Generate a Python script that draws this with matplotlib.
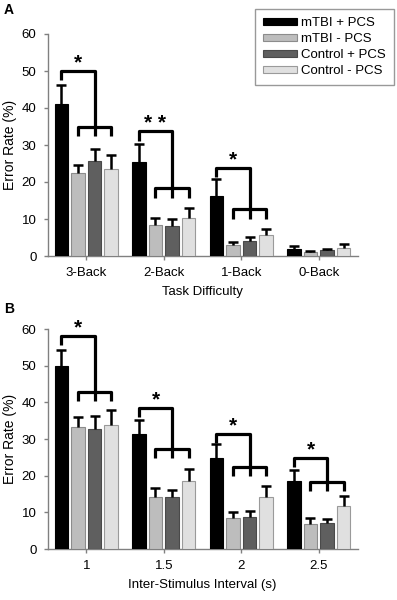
import matplotlib
matplotlib.use("Agg")
import matplotlib.pyplot as plt
import numpy as np

plt.rcParams['font.family'] = ['Liberation Sans', 'DejaVu Sans']

series = ["mTBI + PCS", "mTBI - PCS", "Control + PCS", "Control - PCS"]
colors = ["#000000", "#bdbdbd", "#5f5f5f", "#e0e0e0"]
edges = ["#000000", "#8c8c8c", "#4a4a4a", "#9a9a9a"]

# Panel A
cats_a = ["3-Back", "2-Back", "1-Back", "0-Back"]
mean_a = {
    "mTBI + PCS":    [41.1, 25.3, 16.3, 2.0],
    "mTBI - PCS":    [22.3, 8.5, 3.0, 1.0],
    "Control + PCS": [25.6, 8.2, 4.1, 1.7],
    "Control - PCS": [23.5, 10.3, 5.8, 2.2],
}
top_a = {
    "mTBI + PCS":    [46.3, 30.2, 20.9, 2.8],
    "mTBI - PCS":    [24.7, 10.2, 3.8, 1.4],
    "Control + PCS": [28.9, 10.0, 5.1, 2.0],
    "Control - PCS": [27.2, 12.9, 7.3, 3.2],
}
sig_a = [("*", 50.0, 35.0), ("* *", 33.7, 18.3), ("*", 23.9, 12.6), None]

# Panel B
cats_b = ["1", "1.5", "2", "2.5"]
mean_b = {
    "mTBI + PCS":    [50.0, 31.5, 24.9, 18.6],
    "mTBI - PCS":    [33.2, 14.1, 8.5, 6.8],
    "Control + PCS": [32.7, 14.3, 8.6, 7.0],
    "Control - PCS": [33.9, 18.6, 14.3, 11.7],
}
top_b = {
    "mTBI + PCS":    [54.3, 35.2, 28.6, 21.6],
    "mTBI - PCS":    [36.0, 16.7, 10.0, 8.5],
    "Control + PCS": [36.3, 16.0, 10.4, 8.3],
    "Control - PCS": [37.8, 21.7, 17.1, 14.5],
}
sig_b = [("*", 58.1, 42.8), ("*", 38.5, 27.3), ("*", 31.5, 22.5), ("*", 24.9, 18.2)]

W, H = 397, 600
fig = plt.figure(figsize=(W / 100, H / 100), dpi=100)

offsets = np.array([-1.5, -0.5, 0.5, 1.5]) * 0.213
bw = 0.17
d = 2.5


def draw(ax, cats, means, tops, sigs, xlabel):
    x = np.arange(len(cats))
    handles = []
    for i, s in enumerate(series):
        xs = x + offsets[i]
        m = np.array(means[s])
        t = np.array(tops[s])
        b = ax.bar(xs, m, bw, color=colors[i], edgecolor=edges[i], linewidth=0.8,
                   label=s, zorder=3)
        handles.append(b)
        eb = ax.errorbar(xs, m, yerr=[np.zeros_like(m), t - m], fmt='none',
                         ecolor='black', elinewidth=1.8, capsize=3.5, capthick=1.8,
                         zorder=4)
        eb[1][0].set_visible(False)
    for j, sg in enumerate(sigs):
        if sg is None:
            continue
        star, U, L = sg
        xb = x[j] + offsets
        # lower bracket
        ax.plot([xb[1], xb[1], xb[3], xb[3]], [L - d, L, L, L - d], color='black',
                lw=2.3, solid_joinstyle='round', solid_capstyle='butt', zorder=5)
        ax.plot([xb[2], xb[2]], [L, L - d], color='black', lw=2.3, zorder=5,
                solid_capstyle='butt')
        # upper bracket
        ax.plot([xb[0], xb[0], xb[2], xb[2]], [U - d, U, U, L], color='black',
                lw=2.3, solid_joinstyle='round', solid_capstyle='butt', zorder=5)
        ax.text((xb[0] + xb[2]) / 2, U + 0.6, star, ha='center', va='baseline',
                fontsize=15, fontweight='bold')
    ax.set_xlim(-0.5, 3.5)
    ax.set_ylim(0, 60)
    ax.set_yticks(np.arange(0, 61, 10))
    ax.set_xticks(x)
    ax.set_xticklabels(cats)
    for sp in ['top', 'right']:
        ax.spines[sp].set_visible(False)
    for sp in ['left', 'bottom']:
        ax.spines[sp].set_color('#808080')
        ax.spines[sp].set_linewidth(1.0)
    ax.tick_params(axis='both', direction='out', length=3, width=1.0,
                   color='#808080', labelsize=9.5, pad=5)
    ax.set_ylabel("Error Rate (%)", fontsize=10, labelpad=3)
    ax.set_xlabel(xlabel, fontsize=9.5, labelpad=5)
    return handles


axA = fig.add_axes([47.5 / W, 1 - 256 / H, 310 / W, 222 / H])
hA = draw(axA, cats_a, mean_a, top_a, sig_a, "Task Difficulty")
axB = fig.add_axes([47.5 / W, 1 - 549 / H, 310 / W, 220 / H])
draw(axB, cats_b, mean_b, top_b, sig_b, "Inter-Stimulus Interval (s)")

leg = fig.legend(handles=hA, labels=series, loc='upper right',
                 bbox_to_anchor=(394 / W, 1 - 9 / H), bbox_transform=fig.transFigure,
                 fontsize=9.5, frameon=True, fancybox=False, edgecolor='#808080',
                 handlelength=2.6, handleheight=0.45, labelspacing=0.3,
                 handletextpad=0.3, borderpad=0.6, borderaxespad=0)
leg.get_frame().set_linewidth(1.0)

fig.text(4 / W, 1 - 9.5 / H, "A", fontsize=10, fontweight='bold', va='center', ha='left')
fig.text(4 / W, 1 - 309 / H, "B", fontsize=10, fontweight='bold', va='center', ha='left')

fig.savefig("out.png", dpi=100)
